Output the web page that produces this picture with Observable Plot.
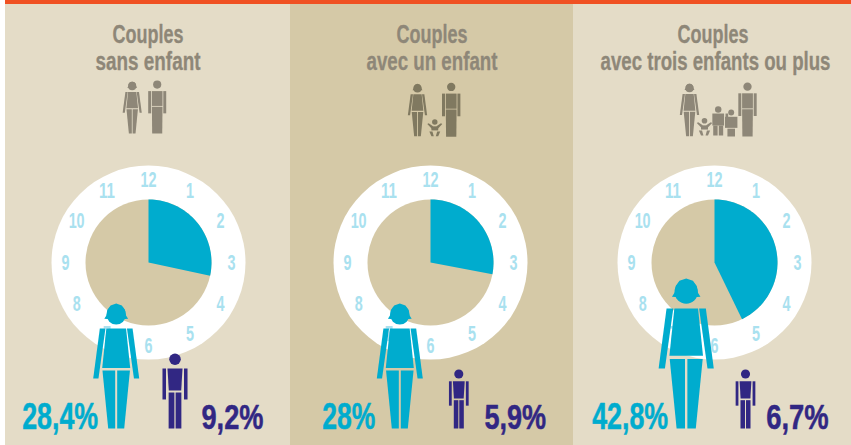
<!DOCTYPE html>
<html><head><meta charset="utf-8">
<style>html,body{margin:0;padding:0;background:#fff}svg{display:block}</style>
<script src="https://cdn.jsdelivr.net/npm/d3@7"></script>
<script src="https://cdn.jsdelivr.net/npm/@observablehq/plot@0.6"></script>
</head><body><div id="c"></div>
<script>
// ---- data ----
const titleTop = ["Couples", "Couples", "Couples"];
const titleBottom = ["sans enfant", "avec un enfant", "avec trois enfants ou plus"];
const womenShare = [28.4, 28, 42.8];
const menShare = [9.2, 5.9, 6.7];
const womenLabels = ["28,4%", "28%", "42,8%"];
const menLabels = ["9,2%", "5,9%", "6,7%"];
const hours = [12, 1, 2, 3, 4, 5, 6, 7, 8, 9, 10, 11];

// ---- layout ----
const FONT = "'Liberation Sans',sans-serif";
const panelEdges = [[5, 290], [290, 573], [573, 851]];
const panelFill = ["#e4dcc7", "#d5c9a7", "#e4dcc7"];
const cxs = [148, 430, 714], cy = 262, R0 = 97, R1 = 63, RH = 83;
const titleTopX = [147.5, 431.5, 712.5], titleTopW = [71, 71, 71];
const titleBottomX = [147.5, 431.5, 715], titleBottomW = [105, 131, 230];
const womanX = [115.7, 399.3, 685.7], womanH = [125, 125, 150];
const manX = [174.5, 458.3, 745], manH = [75, 59, 59];
const foot = 428;
const womanLabelX = [21.7, 321.7, 591.7], womanLabelW = [76, 53, 76];
const manLabelX = [201, 484, 765.7], manLabelW = [62, 61.7, 62.5];

// ---- silhouettes, unit height, origin top-centre ----
const mirror = p => p.map(([x, y]) => [-x, y]);
const womanArm = [[-.131,.2],[-.086,.2],[-.142,.6],[-.184,.6]];
const womanLeg = [[-.11,.536],[-.008,.536],[-.008,1],[-.064,1]];
const womanParts = [
  [[-.079,.2],[.079,.2],[.112,.515],[-.112,.515]],
  womanArm, mirror(womanArm), womanLeg, mirror(womanLeg),
  [[-.095,.122],[-.075,.09],[-.07,.05],[-.045,.015],[0,0],[.045,.015],[.07,.05],[.075,.09],[.095,.122],[.05,.125],[-.05,.125]]
];
const womanHead = {x: 0, y: .09, r: .078};
const manParts = [
  [[-.1,.2],[.1,.2],[.083,.493],[-.083,.493]],
  [[-.167,.2],[-.12,.2],[-.12,.613],[-.167,.613]],
  [[.12,.2],[.167,.2],[.167,.613],[.12,.613]],
  [[-.085,.52],[-.008,.52],[-.008,1],[-.085,1]],
  [[.008,.52],[.085,.52],[.085,1],[.008,1]]
];
const manHead = {x: 0, y: .077, r: .077};
const manSolidParts = [
  [[-.1,.2],[.1,.2],[.1,.48],[-.1,.48]],
  [[-.17,.2],[-.115,.2],[-.115,.62],[-.17,.62]],
  [[.115,.2],[.17,.2],[.17,.62],[.115,.62]],
  [[-.1,.495],[.1,.495],[.095,1],[-.095,1]]
];
const babyArm = [[-.44,.28],[-.36,.24],[-.1,.42],[-.18,.56]];
const babyLeg = [[-.32,.72],[-.14,.72],[-.06,1],[-.2,1]];
const babyParts = [
  [[-.2,.42],[.2,.42],[.2,.66],[-.2,.66]],
  babyArm, mirror(babyArm), babyLeg, mirror(babyLeg)
];
const babyHead = {x: 0, y: .16, r: .16};
const boyParts = [
  [[-.2,.25],[.2,.25],[.2,.66],[-.2,.66]],
  [[.25,.25],[.34,.25],[.34,.66],[.25,.66]],
  [[-.17,.66],[-.02,.66],[-.02,1],[-.17,1]],
  [[.02,.66],[.17,.66],[.17,1],[.02,1]]
];
const girlParts = [
  [[-.23,.27],[.23,.27],[.23,.68],[-.23,.68]],
  [[-.14,.71],[.14,.71],[.14,1],[-.14,1]]
];
const childHead = {x: 0, y: .11, r: .11};

const polys = [], heads = [];
let pid = 0;
function figure(parts, head, cx, top, h, fill) {
  for (const part of parts) {
    pid++;
    for (const [x, y] of part) polys.push({x: cx + x * h, y: top + y * h, id: pid, fill});
  }
  heads.push({x: cx + head.x * h, y: top + head.y * h, r: head.r * h, fill});
}
const BLUE = "#00acce", NAVY = "#312783", GREY = "#8e8778", ICON2 = "#807960";
womenShare.forEach((v, i) => figure(womanParts, womanHead, womanX[i], foot - womanH[i], womanH[i], BLUE));
menShare.forEach((v, i) => figure(manParts, manHead, manX[i], foot - manH[i], manH[i], NAVY));
// icons
figure(womanParts, womanHead, 131.7, 81, 52, GREY);
figure(manSolidParts, manHead, 156.7, 80, 53, GREY);
figure(womanParts, womanHead, 417, 83.3, 52.4, ICON2);
figure(manSolidParts, manHead, 450.7, 82.3, 54, ICON2);
figure(babyParts, babyHead, 434.3, 118.7, 17, ICON2);
figure(womanParts, womanHead, 689, 83, 52.7, GREY);
figure(manSolidParts, manHead, 747, 82, 54, GREY);
figure(babyParts, babyHead, 704, 117.5, 17.5, GREY);
figure(boyParts, childHead, 717.7, 105.7, 29.3, GREY);
figure(girlParts, childHead, 730.7, 109, 27, GREY);

// ---- derived ----
const wedges = womenShare.flatMap((v, i) => {
  const n = Math.ceil(v * 2), a = v / 100 * 2 * Math.PI;
  const arc = d3.range(n + 1).map(k => {
    const t = a * k / n;
    return {x: cxs[i] + R1 * Math.sin(t), y: cy - R1 * Math.cos(t), i};
  });
  return [{x: cxs[i], y: cy, i}, ...arc];
});
const hourMarks = cxs.flatMap(cx => hours.map(h => {
  const t = (h % 12) / 12 * 2 * Math.PI;
  return {x: cx + RH * Math.sin(t), y: cy - RH * Math.cos(t), h};
}));
const panels = panelEdges.map(([x1, x2], i) => ({x1, x2, y1: 0, y2: 445, fill: panelFill[i]}));

// Tag each text with the width measured on the reference; scaled after insertion.
const fit = width => (index, scales, values, dims, ctx, next) => {
  const g = next(index, scales, values, dims, ctx);
  g.querySelectorAll("text").forEach((t, k) => t.setAttribute("data-w", width(index[k])));
  return g;
};
const tx = {fontFamily: FONT, fontWeight: 700, lineAnchor: "bottom"};

const plot = Plot.plot({
  width: 851, height: 445, margin: 0, axis: null,
  x: {type: "identity"}, y: {type: "identity"}, r: {type: "identity"},
  marks: [
    Plot.rect(panels, {x1: "x1", x2: "x2", y1: "y1", y2: "y2", fill: d => d.fill}),
    Plot.rect([{}], {x1: () => 5, x2: () => 851, y1: () => 0, y2: () => 4, fill: "#f05122"}),
    Plot.text(titleTop, {...tx, x: (d, i) => titleTopX[i], y: () => 42, text: d => d, fill: GREY, stroke: GREY, strokeWidth: 0.3, fontSize: 25, render: fit(i => titleTopW[i])}),
    Plot.text(titleBottom, {...tx, x: (d, i) => titleBottomX[i], y: () => 69, text: d => d, fill: GREY, stroke: GREY, strokeWidth: 0.3, fontSize: 25, render: fit(i => titleBottomW[i])}),
    Plot.dot(cxs, {x: d => d, y: () => cy, r: R0, fill: "#fff"}),
    Plot.dot(cxs, {x: d => d, y: () => cy, r: R1, fill: "#d5c9a7"}),
    Plot.line(wedges, {x: "x", y: "y", z: "i", fill: BLUE, stroke: "none"}),
    Plot.text(hourMarks, {x: "x", y: "y", text: "h", fill: "#a9e1ef", fontFamily: FONT, fontWeight: 700, fontSize: 22, lineAnchor: "middle",
      render: fit(i => hourMarks[i].h > 9 ? 16 : 8)}),
    Plot.line(polys, {x: "x", y: "y", z: "id", fill: "fill", stroke: "none"}),
    Plot.dot(heads, {x: "x", y: "y", r: "r", fill: "fill"}),
    Plot.text(womenShare, {...tx, x: (d, i) => womanLabelX[i], y: () => 428, text: (d, i) => womenLabels[i], textAnchor: "start", fill: BLUE, stroke: BLUE, strokeWidth: 0.5, fontSize: 36, render: fit(i => womanLabelW[i])}),
    Plot.text(menShare, {...tx, x: (d, i) => manLabelX[i], y: () => 428, text: (d, i) => menLabels[i], textAnchor: "start", fill: NAVY, stroke: NAVY, strokeWidth: 0.5, fontSize: 36, render: fit(i => manLabelW[i])})
  ]
});
document.getElementById("c").append(plot);
// Condense each text horizontally to its measured width, anchored at its own position.
plot.querySelectorAll("text[data-w]").forEach(t => {
  const sx = +t.getAttribute("data-w") / t.getComputedTextLength();
  const base = t.getAttribute("transform") || "";
  t.setAttribute("transform", `${base} scale(${sx},1)`);
});
</script></body></html>
